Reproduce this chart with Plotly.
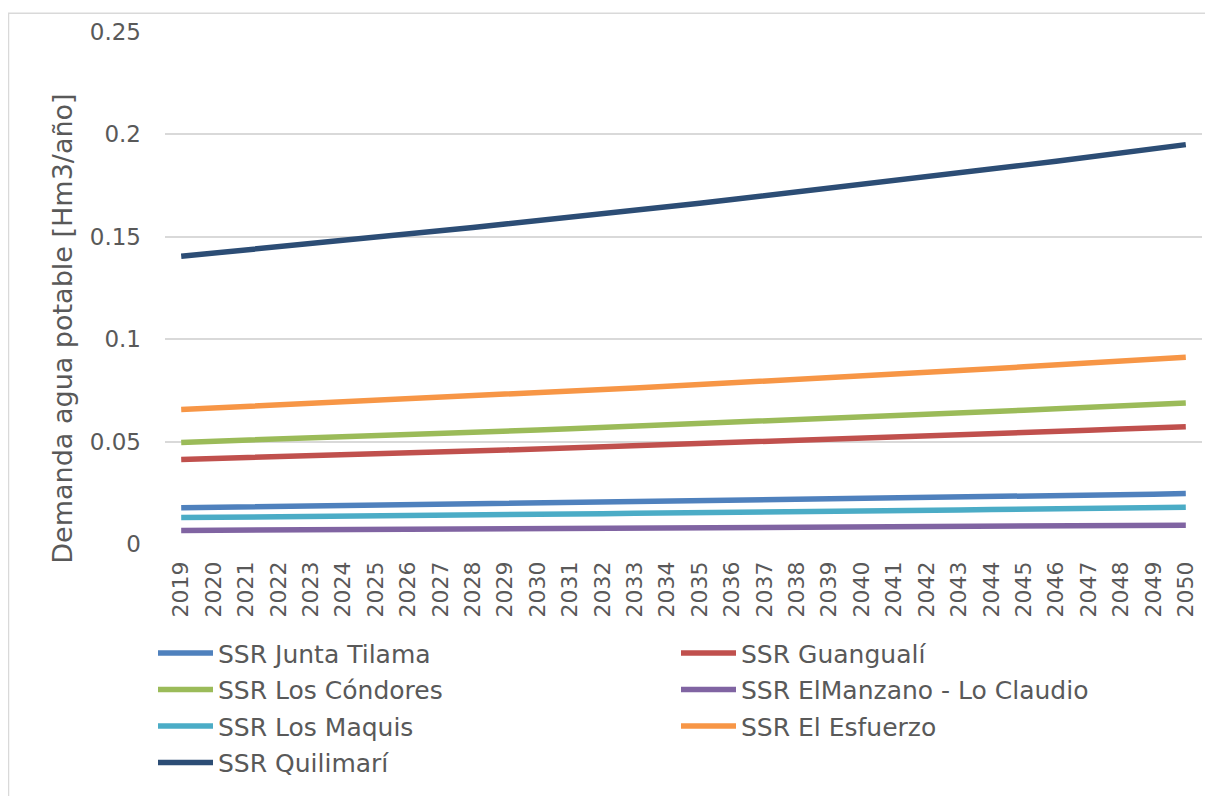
import plotly.graph_objects as go

# Años del horizonte de proyección
years = [str(y) for y in range(2019, 2051)]

# Demanda de agua potable por SSR [Hm3/año]
junta_tilama = [0.0177, 0.0179, 0.0181, 0.0183, 0.0185, 0.0187, 0.0189, 0.0191,
                0.0193, 0.0195, 0.0197, 0.0199, 0.0201, 0.0203, 0.0205, 0.0207,
                0.0210, 0.0212, 0.0214, 0.0216, 0.0219, 0.0221, 0.0223, 0.0226,
                0.0228, 0.0231, 0.0233, 0.0236, 0.0238, 0.0241, 0.0243, 0.0246]
guangiali = [0.0413, 0.0417, 0.0422, 0.0426, 0.0431, 0.0435, 0.0440, 0.0445,
             0.0449, 0.0454, 0.0459, 0.0464, 0.0469, 0.0474, 0.0479, 0.0484,
             0.0489, 0.0494, 0.0500, 0.0505, 0.0510, 0.0516, 0.0521, 0.0527,
             0.0532, 0.0538, 0.0544, 0.0550, 0.0555, 0.0561, 0.0567, 0.0573]
los_condores = [0.0496, 0.0501, 0.0507, 0.0512, 0.0517, 0.0523, 0.0528, 0.0534,
                0.0540, 0.0546, 0.0551, 0.0557, 0.0563, 0.0569, 0.0575, 0.0581,
                0.0587, 0.0594, 0.0600, 0.0606, 0.0613, 0.0619, 0.0626, 0.0633,
                0.0639, 0.0646, 0.0653, 0.0660, 0.0667, 0.0674, 0.0681, 0.0688]
el_manzano = [0.0066, 0.0067, 0.0067, 0.0068, 0.0069, 0.0070, 0.0070, 0.0071,
              0.0072, 0.0073, 0.0073, 0.0074, 0.0075, 0.0076, 0.0077, 0.0077,
              0.0078, 0.0079, 0.0080, 0.0081, 0.0082, 0.0082, 0.0083, 0.0084,
              0.0085, 0.0086, 0.0087, 0.0088, 0.0089, 0.0090, 0.0091, 0.0092]
los_maquis = [0.0129, 0.0130, 0.0132, 0.0133, 0.0135, 0.0136, 0.0137, 0.0139,
              0.0140, 0.0142, 0.0143, 0.0145, 0.0146, 0.0148, 0.0150, 0.0151,
              0.0153, 0.0154, 0.0156, 0.0158, 0.0159, 0.0161, 0.0163, 0.0165,
              0.0166, 0.0168, 0.0170, 0.0172, 0.0173, 0.0175, 0.0177, 0.0179]
el_esfuerzo = [0.0657, 0.0664, 0.0671, 0.0678, 0.0685, 0.0693, 0.0700, 0.0707,
               0.0715, 0.0723, 0.0730, 0.0738, 0.0746, 0.0754, 0.0762, 0.0770,
               0.0778, 0.0786, 0.0795, 0.0803, 0.0812, 0.0820, 0.0829, 0.0838,
               0.0847, 0.0856, 0.0865, 0.0874, 0.0883, 0.0893, 0.0902, 0.0912]
quilimari = [0.1405, 0.1420, 0.1435, 0.1450, 0.1466, 0.1481, 0.1497, 0.1513,
             0.1529, 0.1545, 0.1562, 0.1578, 0.1595, 0.1612, 0.1629, 0.1647,
             0.1664, 0.1682, 0.1700, 0.1718, 0.1736, 0.1754, 0.1773, 0.1792,
             0.1811, 0.1830, 0.1850, 0.1869, 0.1889, 0.1909, 0.1930, 0.1950]

# (nombre, datos, color, columna de la leyenda)
series = [
    ("SSR Junta Tilama", junta_tilama, "#4F81BD", "legend"),
    ("SSR Guangualí", guangiali, "#C0504D", "legend2"),
    ("SSR Los Cóndores", los_condores, "#9BBB59", "legend"),
    ("SSR ElManzano - Lo Claudio", el_manzano, "#8064A2", "legend2"),
    ("SSR Los Maquis", los_maquis, "#4BACC6", "legend"),
    ("SSR El Esfuerzo", el_esfuerzo, "#F79646", "legend2"),
    ("SSR Quilimarí", quilimari, "#2C4D75", "legend"),
]

FONT = "DejaVu Sans"
GRIS = "#595959"

fig = go.Figure()
for nombre, valores, color, ley in series:
    fig.add_trace(go.Scatter(x=years, y=valores, mode="lines", name=nombre,
                             legend=ley, legendgroup=nombre,
                             line=dict(color=color, width=5.5)))

# la página tiene 8px de margen en el body
W, H = 1205, 788
L, R, T, B = 157, 11, 22, 250
pw, ph = W - L - R, H - T - B

ley_font = dict(size=25, color=GRIS, family=FONT)
ley_y = (538 - 625) / ph

fig.update_layout(
    width=W, height=H,
    margin=dict(l=L, r=R, t=T, b=B),
    paper_bgcolor="white", plot_bgcolor="white",
    font=dict(family=FONT, color=GRIS, size=22),
    showlegend=True,
    legend=dict(x=(145 - L) / pw, y=ley_y, xanchor="left", yanchor="top",
                font=ley_font, bgcolor="rgba(0,0,0,0)", itemwidth=55,
                tracegroupgap=1),
    legend2=dict(x=(668 - L) / pw, y=ley_y, xanchor="left", yanchor="top",
                 font=ley_font, bgcolor="rgba(0,0,0,0)", itemwidth=55,
                 tracegroupgap=1),
    shapes=[dict(type="rect", xref="paper", yref="paper",
                 x0=-(L - 0.5) / pw, x1=1 + (R + 20) / pw,
                 y0=-(B + 20) / ph, y1=1 + (T - 3) / ph,
                 line=dict(color="#D9D9D9", width=1.5), layer="below")],
    annotations=[dict(text="Demanda agua potable [Hm3/año]", textangle=-90,
                      xref="paper", yref="paper",
                      x=(55 - L) / pw, y=(538 - 321) / ph,
                      xanchor="center", yanchor="middle", showarrow=False,
                      font=dict(size=27, color=GRIS, family=FONT))],
)

fig.update_xaxes(
    type="category", range=[-0.5, 31.5], tickangle=-90,
    showgrid=False, showline=False, zeroline=False,
    tickfont=dict(size=22, color=GRIS), ticklabelstandoff=12,
)
fig.update_yaxes(
    range=[0, 0.25], dtick=0.05, tick0=0,
    showgrid=True, gridcolor="#D9D9D9", gridwidth=1.5,
    zeroline=False, showline=False,
    tickfont=dict(size=23, color=GRIS), ticklabelstandoff=23,
)

fig.write_html("out.html")
